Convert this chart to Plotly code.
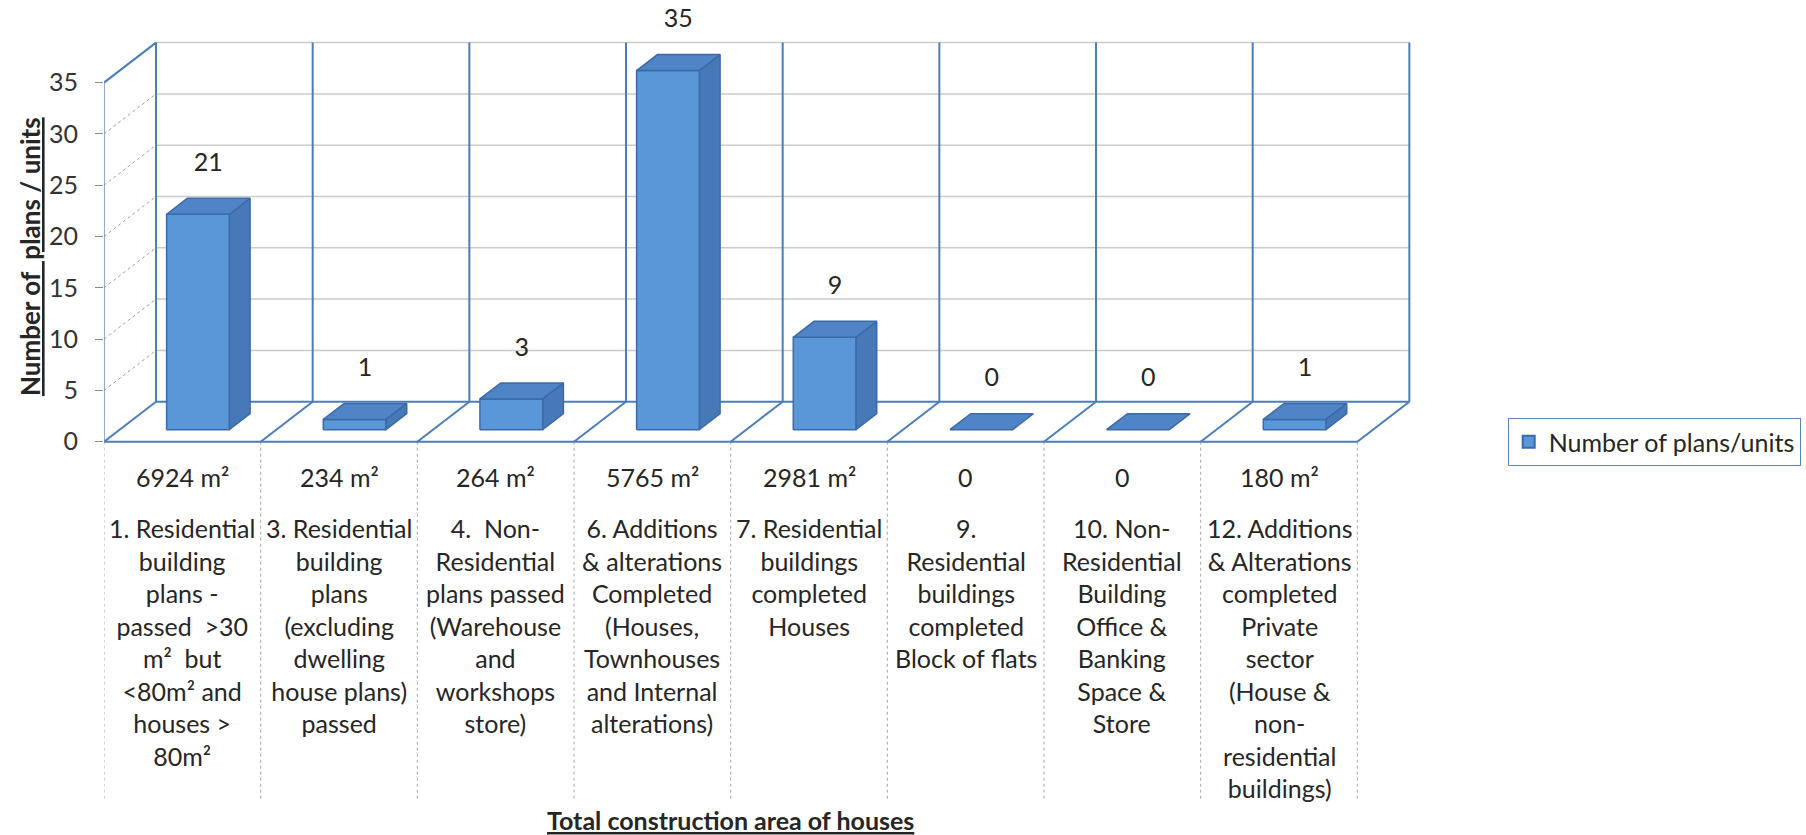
import plotly.graph_objects as go

# ---------------- data ----------------
category_labels = [
    "1. Residential<br>building<br>plans -<br>passed  &gt;30<br>m²  but<br>&lt;80m² and<br>houses &gt;<br>80m²",
    "3. Residential<br>building<br>plans<br>(excluding<br>dwelling<br>house plans)<br>passed",
    "4.  Non-<br>Residential<br>plans passed<br>(Warehouse<br>and<br>workshops<br>store)",
    "6. Additions<br>&amp; alterations<br>Completed<br>(Houses,<br>Townhouses<br>and Internal<br>alterations)",
    "7. Residential<br>buildings<br>completed<br>Houses",
    "9.<br>Residential<br>buildings<br>completed<br>Block of flats",
    "10. Non-<br>Residential<br>Building<br>Office &amp;<br>Banking<br>Space &amp;<br>Store",
    "12. Additions<br>&amp; Alterations<br>completed<br>Private<br>sector<br>(House &amp;<br>non-<br>residential<br>buildings)",
]
area_labels = ["6924 m²", "234 m²", "264 m²", "5765 m²", "2981 m²", "0", "0", "180 m²"]
values = [21, 1, 3, 35, 9, 0, 0, 1]
y_ticks = [0, 5, 10, 15, 20, 25, 30, 35]
series_name = "Number of plans/units"
y_title = "Number of  plans / units"
x_title = "Total construction area of houses"

# ---------------- geometry / style ----------------
N = len(values)
YMAX = y_ticks[-1]
DX, DY = 0.332, 3.9          # oblique depth offset (category units, value units)
D0, D1 = 0.3, 0.7            # bar front / back depth fraction
BW = 0.4                     # bar width (category units)
LABEL_GAP = 6.0
TABLE_BOTTOM = -34.9
AREA_Y = -3.41
CAT_Y = -6.75
XTITLE_Y = -36.9
FONT = "Lato"
TXT = "#262626"

W, H = 1806, 835
X0_PX, PX_CAT = 104, 156.7
Y0_PX, PX_UNIT = 441.7, 10.26
X_RANGE = [0, 8.4]
plot_w = (X_RANGE[1] - X_RANGE[0]) * PX_CAT
Y_RANGE = [-(H - Y0_PX) / PX_UNIT, Y0_PX / PX_UNIT]

BLUE_LINE = "#4a7ebb"
GRID = "#cbcbcb"
FRONT = "#5a97d8"
SIDE = "#4778b8"
TOP = "#4f84c6"
EDGE = "#3c6aa6"

fig = go.Figure()


def seg(xs, ys, color, width, dash="solid"):
    fig.add_trace(go.Scatter(x=xs, y=ys, mode="lines", hoverinfo="skip", showlegend=False,
                             cliponaxis=False, line=dict(color=color, width=width, dash=dash)))


def multi(segments):
    xs, ys = [], []
    for (x1, y1, x2, y2) in segments:
        xs += [x1, x2, None]
        ys += [y1, y2, None]
    return xs, ys


# table vertical lines
xs, ys = multi([(i, 0, i, TABLE_BOTTOM) for i in range(N + 1)])
seg(xs, ys, "#a8a8a8", 1, "dot")

# back wall horizontal gridlines
xs, ys = multi([(DX, v + DY, N + DX, v + DY) for v in y_ticks[1:]])
seg(xs, ys, GRID, 1.5)

# side wall diagonal gridlines
xs, ys = multi([(0, v, DX, v + DY) for v in y_ticks[1:-1]])
seg(xs, ys, "#a0a0a0", 1, "dot")

# back wall vertical lines
xs, ys = multi([(i + DX, DY, i + DX, YMAX + DY) for i in range(N + 1)])
seg(xs, ys, BLUE_LINE, 2)

# floor: back edge, front edge, diagonals; side wall top edge; front axis
segs = [(DX, DY, N + DX, DY), (0, 0, N, 0), (0, YMAX, DX, YMAX + DY)]
segs += [(i, 0, i + DX, DY) for i in range(N + 1)]
xs, ys = multi(segs)
seg(xs, ys, BLUE_LINE, 2)
xs, ys = multi([(0, 0, 0, YMAX)])
seg(xs, ys, "#6f8fbf", 1.5)

# bars (oblique 3D)
front_x, front_y, side_x, side_y, top_x, top_y = [], [], [], [], [], []
dd = D1 - D0
for i, v in enumerate(values):
    xl = i + 0.5 - BW / 2 + D0 * DX
    xr = i + 0.5 + BW / 2 + D0 * DX
    yb = D0 * DY
    yt = v + D0 * DY
    if v > 0:
        front_x += [xl, xr, xr, xl, xl, None]
        front_y += [yb, yb, yt, yt, yb, None]
        side_x += [xr, xr + dd * DX, xr + dd * DX, xr, xr, None]
        side_y += [yb, yb + dd * DY, yt + dd * DY, yt, yb, None]
    top_x += [xl, xr, xr + dd * DX, xl + dd * DX, xl, None]
    top_y += [yt, yt, yt + dd * DY, yt + dd * DY, yt, None]

for fx, fy, col in [(side_x, side_y, SIDE), (front_x, front_y, FRONT), (top_x, top_y, TOP)]:
    fig.add_trace(go.Scatter(x=fx, y=fy, mode="lines", fill="toself", fillcolor=col,
                             line=dict(color=EDGE, width=1.5), hoverinfo="skip",
                             showlegend=False, cliponaxis=False))

# data labels
fig.add_trace(go.Scatter(
    x=[i + 0.5 + 0.5 * DX for i in range(N)],
    y=[v + LABEL_GAP for v in values],
    mode="text", text=[str(v) for v in values], textposition="middle center",
    textfont=dict(family=FONT, size=25, color=TXT),
    hoverinfo="skip", showlegend=False, cliponaxis=False))

# legend entry
fig.add_trace(go.Scatter(x=[None], y=[None], mode="markers", name=series_name,
                         marker=dict(symbol="square", size=14, color=FRONT,
                                     line=dict(color=EDGE, width=1))))

annotations = []
for i in range(N):
    annotations.append(dict(x=i + 0.5, y=AREA_Y, xref="x", yref="y", text=area_labels[i],
                            showarrow=False, xanchor="center", yanchor="middle",
                            font=dict(family=FONT, size=25, color=TXT)))
    annotations.append(dict(x=i + 0.5, y=CAT_Y, xref="x", yref="y", text=category_labels[i],
                            showarrow=False, xanchor="center", yanchor="top", align="center",
                            font=dict(family=FONT, size=25, color=TXT)))

annotations.append(dict(x=(30 - X0_PX) / plot_w, xref="paper", y=18.0, yref="y",
                        text="<b><u>" + y_title + "</u></b>", textangle=-90, showarrow=False,
                        xanchor="center", yanchor="middle",
                        font=dict(family=FONT, size=26, color=TXT)))
annotations.append(dict(x=N / 2, xref="x", y=XTITLE_Y, yref="y",
                        text="<b><u>" + x_title + "</u></b>", showarrow=False,
                        xanchor="center", yanchor="middle",
                        font=dict(family=FONT, size=25, color=TXT)))

fig.update_layout(
    width=W, height=H,
    margin=dict(l=X0_PX, r=W - X0_PX - plot_w, t=0, b=0),
    paper_bgcolor="white", plot_bgcolor="white",
    xaxis=dict(range=X_RANGE, visible=False, fixedrange=True),
    yaxis=dict(range=Y_RANGE, tickvals=y_ticks, ticks="outside", ticklen=8,
               tickcolor="#8a8a8a", tickwidth=1, showgrid=False, zeroline=False,
               showline=False, ticklabelstandoff=12,
               tickfont=dict(family=FONT, size=25, color="#333333"), fixedrange=True),
    showlegend=True,
    legend=dict(x=(1508 - X0_PX) / plot_w, y=1 - 418 / H, xanchor="left", yanchor="top",
                bordercolor="#5b86c5", borderwidth=1, bgcolor="white",
                font=dict(family=FONT, size=25, color=TXT), itemsizing="constant"),
    annotations=annotations,
    hovermode=False,
)

fig.write_html("out.html")
